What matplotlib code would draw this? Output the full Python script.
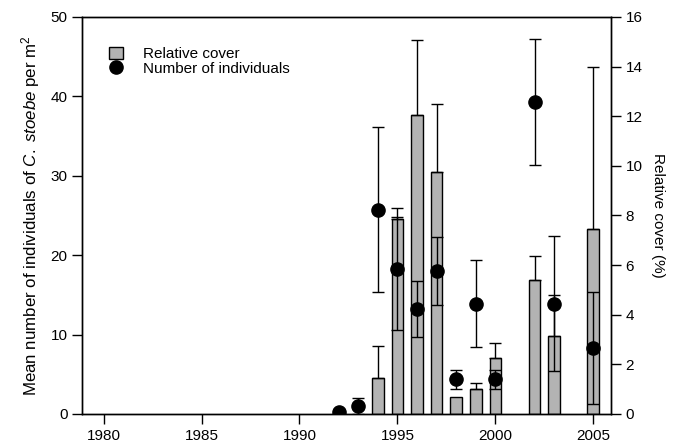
import numpy as np
import matplotlib
matplotlib.use("Agg")
import matplotlib.pyplot as plt
from matplotlib.patches import Patch
from matplotlib.lines import Line2D

plt.rcParams['font.family'] = ['Liberation Sans', 'DejaVu Sans']
plt.rcParams['mathtext.fontset'] = 'custom'
plt.rcParams['mathtext.rm'] = 'Liberation Sans'
plt.rcParams['mathtext.it'] = 'Liberation Sans:italic'

# relative cover (%) - bars, right axis
bar_years = [1994, 1995, 1996, 1997, 1998, 1999, 2000, 2002, 2003, 2005]
cover = [1.45, 7.85, 12.05, 9.75, 0.7, 1.0, 2.25, 5.4, 3.15, 7.45]
cover_err = [1.3, 0.1, 3.0, 2.75, 0.0, 0.25, 0.6, 0.95, 1.65, 6.55]

# number of individuals per m2 - dots, left axis
dot_years = [1992, 1993, 1994, 1995, 1996, 1997, 1998, 1999, 2000, 2002, 2003, 2005]
individuals = [0.2, 1.0, 25.7, 18.3, 13.2, 18.0, 4.4, 13.9, 4.4, 39.3, 13.9, 8.3]
ind_err = [0.0, 1.0, 10.4, 7.7, 3.5, 4.3, 1.2, 5.5, 1.2, 7.9, 8.5, 7.0]

fig = plt.figure(figsize=(6.74, 4.45), dpi=100)
ax = fig.add_axes([0.1217, 0.0697, 0.7848, 0.8923])
ax2 = ax.twinx()

ax2.bar(bar_years, cover, width=0.6, color="#b3b3b3", edgecolor="black", linewidth=1)
# only upward error bars, skip zero ones
be = [(x, y, e) for x, y, e in zip(bar_years, cover, cover_err) if e > 0]
ax2.errorbar([b[0] for b in be], [b[1] for b in be],
             yerr=[np.zeros(len(be)), [b[2] for b in be]], fmt="none",
             ecolor="black", elinewidth=1, capsize=4.5, capthick=1)

de = [(x, y, e) for x, y, e in zip(dot_years, individuals, ind_err) if e > 0]
ax.errorbar([d[0] for d in de], [d[1] for d in de], yerr=[d[2] for d in de],
            fmt="none", ecolor="black", elinewidth=1, capsize=4.5, capthick=1)
ax.plot(dot_years, individuals, "o", color="black", markersize=9.5)

# dots on top of bars
ax.set_zorder(ax2.get_zorder() + 1)
ax.patch.set_visible(False)

ax.set_xlim(1978.9, 2005.9)
ax.set_ylim(0, 50)
ax2.set_ylim(0, 16)
ax.set_xticks([1980, 1985, 1990, 1995, 2000, 2005])
ax.set_yticks(np.arange(0, 51, 10))
ax2.set_yticks(np.arange(0, 17, 2))

for a in (ax, ax2):
    a.tick_params(direction="out", length=7, width=1, labelsize=11)
    for s in a.spines.values():
        s.set_linewidth(1)

ax.set_ylabel(r"Mean number of individuals of $\it{C.\ stoebe}$ per m$^2$", fontsize=12.2, labelpad=6)
ax2.set_ylabel("Relative cover (%)", rotation=270, labelpad=16, fontsize=11)

handles = [Patch(facecolor="#b3b3b3", edgecolor="black"),
           Line2D([], [], marker="o", color="black", linestyle="none", markersize=9.5)]
ax.legend(handles, ["Relative cover", "Number of individuals"],
          loc="upper left", bbox_to_anchor=(0.025, 0.96), frameon=False,
          fontsize=11, handlelength=0.9, handleheight=0.9, handletextpad=1.3, labelspacing=0.0)

fig.savefig("out.png", dpi=100)
